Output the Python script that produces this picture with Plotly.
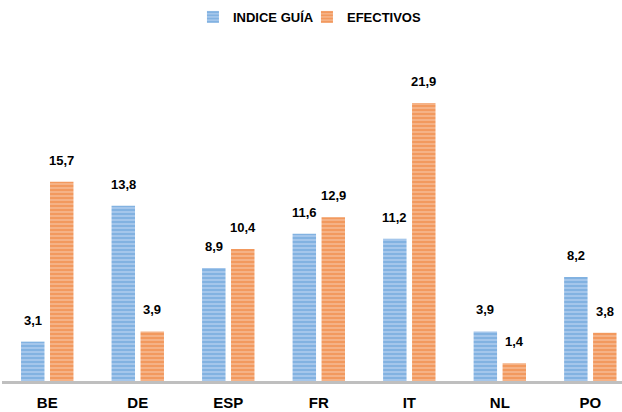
import plotly.graph_objects as go

categories = ["BE", "DE", "ESP", "FR", "IT", "NL", "PO"]
indice_guia = [3.1, 13.8, 8.9, 11.6, 11.2, 3.9, 8.2]
efectivos = [15.7, 3.9, 10.4, 12.9, 21.9, 1.4, 3.8]
series_names = ["INDICE GUÍA", "EFECTIVOS"]

FONT = "Liberation Sans, Arial, sans-serif"

def fmt(v):
    return f"{v:.1f}".replace(".", ",")

fig = go.Figure()
fig.add_trace(go.Bar(
    x=categories, y=indice_guia, name=series_names[0],
    marker=dict(color="#A8C8EC", line=dict(width=0),
                pattern=dict(shape="-", fgcolor="#5B9BD5", size=4, solidity=0.55)),
))
fig.add_trace(go.Bar(
    x=categories, y=efectivos, name=series_names[1],
    marker=dict(color="#F6B48A", line=dict(width=0),
                pattern=dict(shape="-", fgcolor="#ED7D31", size=4, solidity=0.55)),
))

annotations = []
for vals, shift in ((indice_guia, -14.5), (efectivos, 14.5)):
    for c, v in zip(categories, vals):
        annotations.append(dict(
            x=c, y=v, xref="x", yref="y", text=fmt(v), showarrow=False,
            xshift=shift, yshift=12, yanchor="bottom",
            font=dict(family=FONT, size=13, color="#000000", weight="bold"),
        ))

fig.update_layout(
    width=622, height=412,
    margin=dict(l=2, r=0, t=60, b=31),
    paper_bgcolor="white", plot_bgcolor="white",
    barmode="group", bargap=0.36, bargroupgap=0.19,
    font=dict(family=FONT, color="#000000"),
    showlegend=True,
    legend=dict(orientation="h", x=0.308, xanchor="left", y=1.134, yanchor="middle",
                entrywidth=69, entrywidthmode="pixels",
                font=dict(family=FONT, size=13, color="#000000", weight="bold"),
                bgcolor="rgba(0,0,0,0)"),
    annotations=annotations,
    xaxis=dict(range=[-0.5, 6.35], showline=True, linecolor="#BFBFBF", linewidth=3,
               showgrid=False, zeroline=False, ticks="", ticklabelstandoff=6,
               tickfont=dict(family=FONT, size=15, color="#000000", weight="bold")),
    yaxis=dict(range=[0, 25.28], visible=False, showgrid=False, zeroline=False),
)

fig.write_html("out.html", config={"displayModeBar": False},
               post_script="document.body.style.margin='0';document.body.style.overflow='hidden';")
